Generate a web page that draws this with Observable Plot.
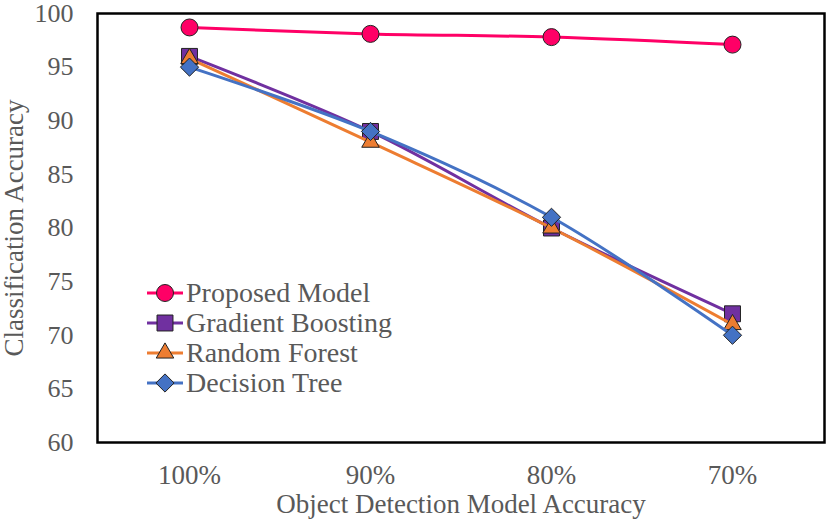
<!DOCTYPE html>
<html>
<head>
<meta charset="utf-8">
<script src="https://cdn.jsdelivr.net/npm/d3@7"></script>
<script src="https://cdn.jsdelivr.net/npm/@observablehq/plot@0.6"></script>
<style>
  html, body { margin: 0; padding: 0; background: #fff; }
  #wrap { position: relative; width: 827px; height: 522px; font-family: "Liberation Serif", "Times New Roman", serif; }
  #legend { position: absolute; left: 146px; top: 278px; }
  .row { display: flex; align-items: center; height: 30px; }
  .row span { font-size: 28px; color: #595959; line-height: 30px; margin-left: 2px; }
</style>
</head>
<body>
<div id="wrap"><div id="legend"></div></div>
<script>
const categories = ["100%", "90%", "80%", "70%"];
const seriesNames = ["Proposed Model", "Gradient Boosting", "Random Forest", "Decision Tree"];
const proposed = [98.7, 98.1, 97.8, 97.1];
const gradientBoosting = [96, 89, 80, 72];
const randomForest = [95.8, 88, 80, 71];
const decisionTree = [95, 89, 81, 70];
const yTicks = [60, 65, 70, 75, 80, 85, 90, 95, 100];

const colors = ["#FF0066", "#7030A0", "#ED7D31", "#4472C4"];
const symbols = ["circle", "square", "triangle", "diamond2"];
const radii = [8.5, 9, 6.5, 8.2];
const values = [proposed, gradientBoosting, randomForest, decisionTree];

const data = [];
seriesNames.forEach((s, i) => values[i].forEach((v, j) => data.push({series: s, cat: categories[j], value: v})));

const marks = [];
seriesNames.forEach((s, i) => {
  const d = data.filter(r => r.series === s);
  marks.push(Plot.line(d, {x: "cat", y: "value", stroke: colors[i], strokeWidth: 3, curve: "catmull-rom"}));
  marks.push(Plot.dot(d, {x: "cat", y: "value", symbol: () => symbols[i], r: radii[i], fill: colors[i], stroke: "#222", strokeWidth: 1}));
});

const chart = Plot.plot({
  width: 827,
  height: 522,
  marginLeft: 97,
  marginRight: 3,
  marginTop: 13,
  marginBottom: 80,
  style: {fontFamily: "'Liberation Serif', 'Times New Roman', serif", fontSize: "27px", color: "#595959", background: "white", overflow: "visible"},
  x: {type: "point", domain: categories, padding: 0.5},
  y: {domain: [60, 100]},
  symbol: {type: "identity"},
  marks: [
    Plot.axisX({tickSize: 0, tickPadding: 22, fontSize: 27, label: "Object Detection Model Accuracy", labelAnchor: "center", labelOffset: 70, labelArrow: "none"}),
    Plot.axisY({ticks: yTicks, tickSize: 0, tickPadding: 24, fontSize: 26, label: null}),
    Plot.axisY({ticks: [], tickSize: 0, fontSize: 27, label: "Classification Accuracy", labelAnchor: "center", labelOffset: 94, labelArrow: "none"}),
    ...marks,
    Plot.frame({stroke: "black", strokeWidth: 2.5})
  ]
});
const wrap = document.getElementById("wrap");
wrap.insertBefore(chart, wrap.firstChild);

const legend = document.getElementById("legend");
seriesNames.forEach((s, i) => {
  const row = document.createElement("div");
  row.className = "row";
  const svg = d3.create("svg").attr("width", 38).attr("height", 30);
  svg.append("line").attr("x1", 1).attr("x2", 37).attr("y1", 15).attr("y2", 15).attr("stroke", colors[i]).attr("stroke-width", 3);
  const symMap = {circle: d3.symbolCircle, square: d3.symbolSquare, triangle: d3.symbolTriangle, diamond2: d3.symbolDiamond2};
  svg.append("path").attr("transform", "translate(19,15)")
    .attr("d", d3.symbol(symMap[symbols[i]], Math.PI * radii[i] * radii[i])())
    .attr("fill", colors[i]).attr("stroke", "#222").attr("stroke-width", 1);
  row.appendChild(svg.node());
  const t = document.createElement("span");
  t.textContent = s;
  row.appendChild(t);
  legend.appendChild(row);
});
</script>
</body>
</html>
